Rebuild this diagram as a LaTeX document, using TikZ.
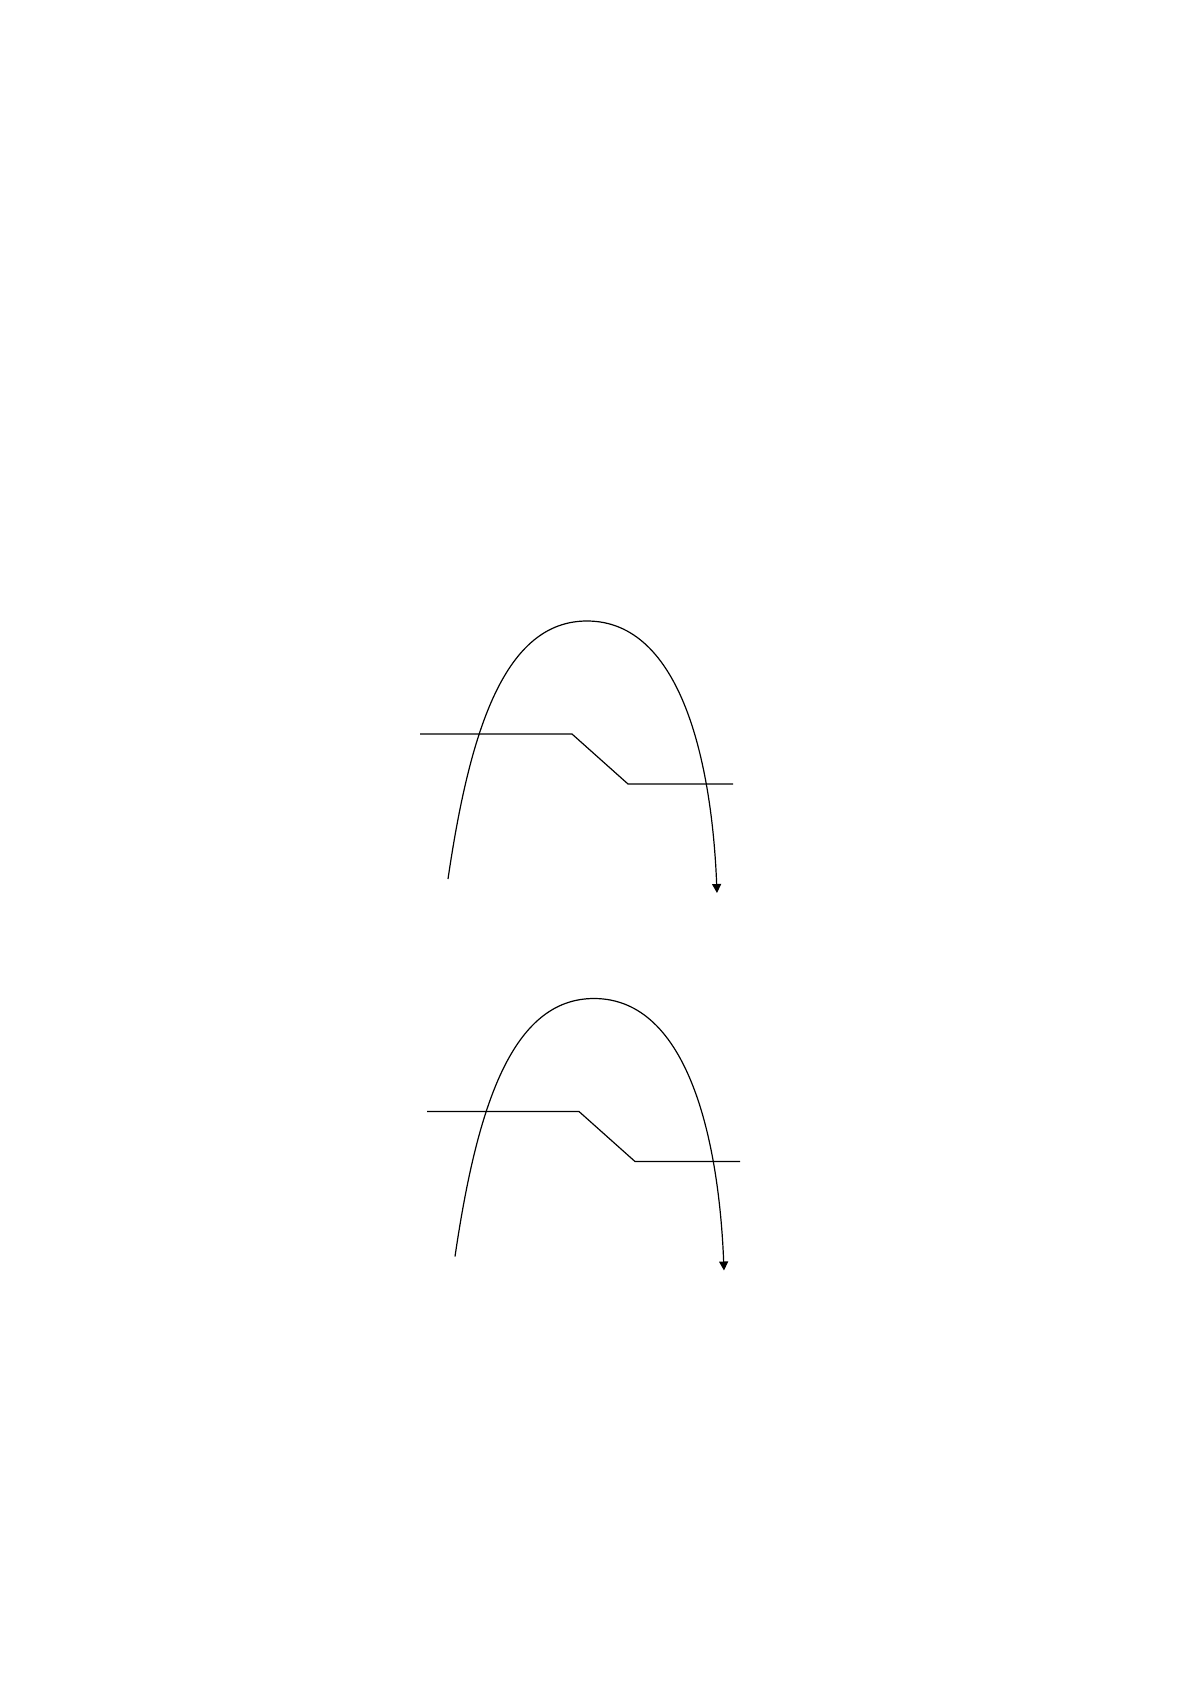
\documentclass[tikz,border=0pt]{standalone}
\usetikzlibrary{arrows.meta}
\begin{document}
\begin{tikzpicture}[x=0.5pt, y=-0.5pt, line width=0.6pt,
    path/.style ={-{Triangle[length=4.5pt,width=4.5pt]}},
    ramp/.style ={line join=miter}]
    \useasboundingbox (0,0) rectangle (1191,1685);
    % upper sketch
    \coordinate (s1) at (448,879);
    \coordinate (t1) at (587,621);
    \coordinate (e1) at (717,893);
    \coordinate (a1) at (420,734);
    \coordinate (b1) at (572,734);
    \coordinate (c1) at (628,784);
    \coordinate (d1) at (733,784);
    \draw[path] (s1) .. controls (470,729) and (505,621) .. (t1)
        .. controls (682,621) and (712,765) .. (e1);
    \draw[ramp] (a1)--(b1)--(c1)--(d1);
    % lower sketch
    \begin{scope}[shift={(7,377.5)}]
    \coordinate (s2) at (448,879);
    \coordinate (t2) at (587,621);
    \coordinate (e2) at (717,893);
    \coordinate (a2) at (420,734);
    \coordinate (b2) at (572,734);
    \coordinate (c2) at (628,784);
    \coordinate (d2) at (733,784);
    \draw[path] (s2) .. controls (470,729) and (505,621) .. (t2)
        .. controls (682,621) and (712,765) .. (e2);
    \draw[ramp] (a2)--(b2)--(c2)--(d2);
    \end{scope}
\end{tikzpicture}
\end{document}
